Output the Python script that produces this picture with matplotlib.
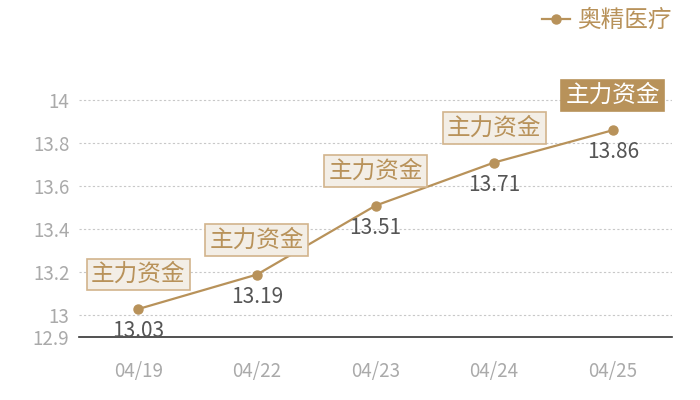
import matplotlib.pyplot as plt
from matplotlib.lines import Line2D

plt.rcParams['font.family'] = ['Noto Sans CJK SC', 'DejaVu Sans']

dates = ["04/19", "04/22", "04/23", "04/24", "04/25"]
prices = [13.03, 13.19, 13.51, 13.71, 13.86]
tags = ["主力资金", "主力资金", "主力资金", "主力资金", "主力资金"]
series_name = "奥精医疗"
yticks = [12.9, 13, 13.2, 13.4, 13.6, 13.8, 14]
ytick_labels = ["12.9", "13", "13.2", "13.4", "13.6", "13.8", "14"]

gold = "#b8925a"

fig = plt.figure(figsize=(7, 4), dpi=100)
ax = fig.add_axes([0.113, 0.1575, 0.847, 0.70])

x = list(range(len(dates)))
ax.plot(x, prices, color=gold, lw=1.6, marker="o", markersize=6.5, zorder=3)

ax.set_xlim(-0.5, len(dates) - 0.5)
ax.set_ylim(12.9, 14.2)
ax.set_yticks(yticks)
ax.set_yticklabels(ytick_labels)
ax.set_xticks(x)
ax.set_xticklabels(dates)
ax.tick_params(axis="both", length=0, colors="#aaaaaa", labelsize=13.5)
ax.tick_params(axis="x", pad=17)
ax.tick_params(axis="y", pad=7)

for v in yticks[1:]:
    ax.axhline(v, color="#c8c8c8", lw=0.8, ls=(0, (2, 2)), zorder=1)

for s in ["top", "right", "left"]:
    ax.spines[s].set_visible(False)
ax.spines["bottom"].set_color("#333333")
ax.spines["bottom"].set_linewidth(1.2)

for i, (v, t) in enumerate(zip(prices, tags)):
    ax.annotate(f"{v:.2f}", (i, v), xytext=(0, -16), textcoords="offset points",
                ha="center", va="center", fontsize=15, color="#555555", zorder=4)
    last = i == len(prices) - 1
    ax.annotate(t, (i, v), xytext=(0, 25), textcoords="offset points",
                ha="center", va="center", fontsize=17,
                color="white" if last else gold, zorder=5,
                bbox=dict(boxstyle="square,pad=0.18",
                          fc=gold if last else "#f3eee6",
                          ec=gold if last else "#d2b48c", lw=1.2))

handle = Line2D([], [], color=gold, lw=1.6, marker="o", markersize=6.5)
leg = fig.legend([handle], [series_name], loc="upper right",
                 bbox_to_anchor=(0.99, 1.03), frameon=False, fontsize=17,
                 handlelength=1.2, handletextpad=0.3)
for txt in leg.get_texts():
    txt.set_color(gold)

fig.savefig("out.png", dpi=100)
